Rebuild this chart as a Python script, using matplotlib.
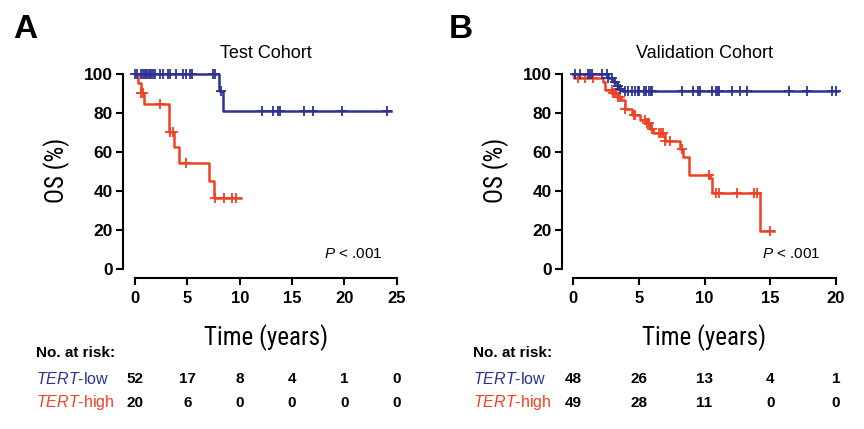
import numpy as np
import matplotlib
matplotlib.use("Agg")
import matplotlib.pyplot as plt
from matplotlib import font_manager
from matplotlib.transforms import blended_transform_factory

# Panel A - Test Cohort (step curves: time of each step, OS % after it)
a_low_t = [0, 7.99, 8.4, 24.42]
a_low_s = [100, 91.3, 80.9, 80.9]
a_low_cens = [0.03, 0.22, 0.6, 0.76, 0.92, 1.08, 1.24, 1.4, 1.56, 1.72, 1.88, 2.36, 2.67,
              3.15, 3.31, 3.95, 4.58, 4.9, 5.22, 5.44, 7.45, 7.67, 8.18,
              12.1, 13.21, 13.63, 13.85, 16.14, 17.03, 19.74, 24.04]
a_high_t = [0, 0.29, 0.54, 0.86, 3.21, 3.69, 4.17, 7.03, 7.54, 10.15]
a_high_s = [100, 95.2, 90.4, 84.5, 70.2, 62.8, 54.6, 45.3, 36.6, 36.6]
a_high_cens = [0.6, 0.76, 2.35, 3.37, 3.63, 4.9, 7.6, 8.5, 9.26, 9.68]

# Panel B - Validation Cohort
b_low_t = [0, 2.67, 3.0, 3.35, 3.55, 3.74, 20.2]
b_low_s = [100, 97.9, 95.8, 93.7, 92.5, 91.4, 91.4]
b_low_cens = [0.13, 0.51, 1.14, 1.27, 1.4, 2.16, 2.54, 2.67, 2.92, 3.18, 3.43, 3.56,
              3.94, 4.19, 4.45, 4.7, 4.91, 5.0, 5.41, 5.51, 5.77, 5.92, 6.02,
              8.26, 9.15, 9.53, 9.66, 10.55, 10.85, 11.0, 11.1, 12.06, 12.74, 13.26,
              16.44, 17.79, 19.75, 20.0]
b_high_t = [0, 0.03, 2.3, 2.45, 2.95, 3.3, 3.65, 3.95, 4.5, 5.05, 5.6, 5.85, 6.1, 7.0,
            8.1, 8.35, 8.8, 10.4, 10.6, 14.2, 15.3]
b_high_s = [100, 98, 96, 91.8, 90, 88.4, 86.8, 81.8, 79, 76.4, 74.7, 72, 69.8, 65.8,
            61.5, 57.6, 48.4, 46.5, 39.0, 19.5, 19.5]
b_high_cens = [0.38, 0.89, 1.53, 2.93, 3.06, 3.19, 3.26, 3.37, 3.52, 3.95, 4.59, 4.72,
               5.48, 5.61, 5.73, 5.99, 6.5, 6.68, 6.83, 7.01, 7.39, 8.29, 10.32,
               10.91, 11.09, 12.49, 13.76, 13.97, 14.99]

# Numbers at risk
a_risk_times = [0, 5, 10, 15, 20, 25]
a_risk_low = [52, 17, 8, 4, 1, 0]
a_risk_high = [20, 6, 0, 0, 0, 0]
b_risk_times = [0, 5, 10, 15, 20]
b_risk_low = [48, 26, 13, 4, 1]
b_risk_high = [49, 28, 11, 0, 0]

BLUE = "#2e3192"
RED = "#ef4123"


def pick_font(names):
    for n in names:
        try:
            font_manager.findfont(n, fallback_to_default=False)
            return n
        except ValueError:
            pass
    return "DejaVu Sans"


BASE = pick_font(["Liberation Sans", "Arial", "DejaVu Sans"])
NARROW = pick_font(["Liberation Sans Narrow", "Roboto Condensed", "DejaVu Sans Condensed", BASE])

plt.rcParams["font.family"] = [BASE, "DejaVu Sans"]
plt.rcParams["mathtext.fontset"] = "custom"
plt.rcParams["mathtext.rm"] = BASE
plt.rcParams["mathtext.it"] = BASE + ":italic"


def surv_at(times, surv, t):
    i = np.searchsorted(times, t, side="right") - 1
    return np.array(surv)[i]


def km_panel(ax, low, high, xmax, xlim):
    for (t, s, c), col in zip([low, high], [BLUE, RED]):
        ax.step(t, s, where="post", color=col, lw=1.8, zorder=3 if col == BLUE else 2)
        ax.plot(c, surv_at(t, s, c), ls="none", marker="+", ms=7.5, mew=1.3,
                color=col, zorder=3 if col == BLUE else 2)
    ax.set_xlim(*xlim)
    ax.set_ylim(-4.3, 103)
    ax.set_xticks(np.arange(0, xmax + 1, 5))
    ax.set_yticks(np.arange(0, 101, 20))
    for sp in ["top", "right"]:
        ax.spines[sp].set_visible(False)
    ax.spines["left"].set_bounds(0, 100)
    ax.spines["bottom"].set_bounds(0, xmax)
    for sp in ["left", "bottom"]:
        ax.spines[sp].set_linewidth(1.5)
    ax.tick_params(axis="both", direction="out", length=5, width=1.5)
    ax.tick_params(axis="x", pad=4.5, labelsize=12)
    ax.tick_params(axis="y", pad=2.5, labelsize=12.5)
    for lab in ax.get_xticklabels() + ax.get_yticklabels():
        lab.set_fontweight("bold")


fig = plt.figure(figsize=(8.64, 4.29), dpi=100)
ax_a = fig.add_axes([0.1427, 0.3527, 0.3201, 0.4886])
ax_b = fig.add_axes([0.6508, 0.3527, 0.3226, 0.4886])

km_panel(ax_a, (a_low_t, a_low_s, a_low_cens), (a_high_t, a_high_s, a_high_cens), 25, (-1.12, 25.3))
km_panel(ax_b, (b_low_t, b_low_s, b_low_cens), (b_high_t, b_high_s, b_high_cens), 20, (-0.84, 20.4))

panels = [
    (ax_a, "A", 13, "Test Cohort", 12.5, 57, 23.6, a_risk_times, a_risk_low, a_risk_high, 36),
    (ax_b, "B", 449, "Validation Cohort", 10, 496, 18.8, b_risk_times, b_risk_low, b_risk_high, 473),
]
for ax, letter, lx, title, tx, ylx, px, rt, rl, rh, tlx in panels:
    tr = blended_transform_factory(ax.transData, fig.transFigure)
    fig.text(lx / 864, 1 - 30 / 429, letter, fontsize=24, fontweight="bold", va="center")
    ax.text(tx, 1 - 53 / 429, title, transform=tr, fontsize=13, ha="center", va="center")
    fig.text(ylx / 864, 1 - 170 / 429, "OS (%)", family=NARROW, fontsize=18,
             rotation=90, ha="center", va="center")
    ax.text(tx, 1 - 338 / 429, "Time (years)", transform=tr, family=NARROW, fontsize=18,
            ha="center", va="center")
    ax.text(px, 8, r"$\it{P}$ < .001", fontsize=11, ha="right", va="center")

    fig.text(tlx / 864, 1 - 353 / 429, "No. at risk:", fontsize=11, fontweight="bold", va="center")
    fig.text(tlx / 864, 1 - 379.3 / 429, r"$\it{TERT}$-low", fontsize=11.5, color=BLUE, va="center")
    fig.text(tlx / 864, 1 - 402.7 / 429, r"$\it{TERT}$-high", fontsize=11.5, color=RED, va="center")
    for t, nl, nh in zip(rt, rl, rh):
        ax.text(t, 1 - 379.3 / 429, str(nl), transform=tr, fontsize=11, fontweight="bold",
                ha="center", va="center")
        ax.text(t, 1 - 402.7 / 429, str(nh), transform=tr, fontsize=11, fontweight="bold",
                ha="center", va="center")

fig.savefig("out.png", dpi=100)
